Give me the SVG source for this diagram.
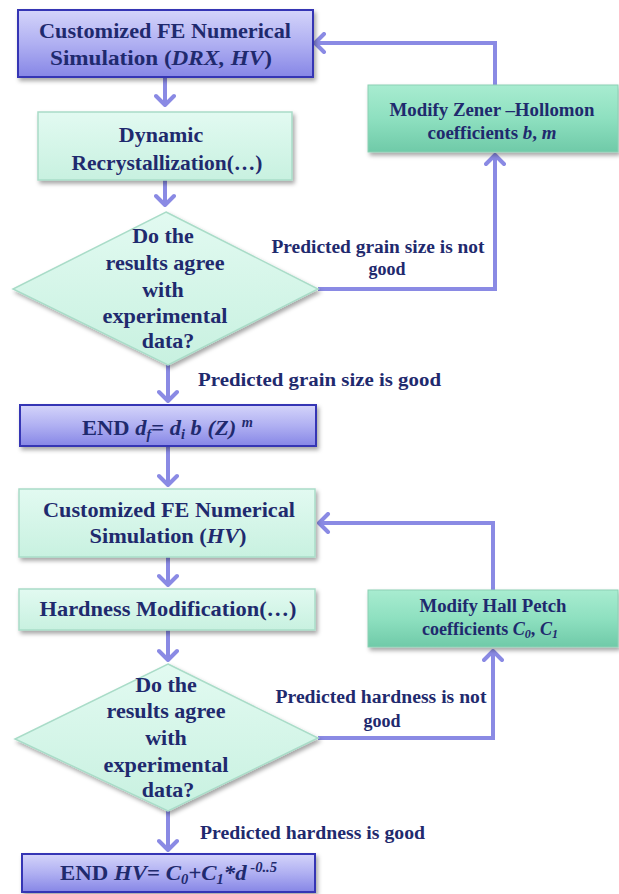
<svg xmlns="http://www.w3.org/2000/svg" width="619" height="894" viewBox="0 0 619 894">
<defs>
<linearGradient id="gBlue" x1="0" y1="0" x2="0" y2="1">
<stop offset="0" stop-color="#d4d4fa"/>
<stop offset="0.5" stop-color="#b0b0f2"/>
<stop offset="1" stop-color="#8686e6"/>
</linearGradient>
<linearGradient id="gPale" x1="0" y1="0" x2="0" y2="1">
<stop offset="0" stop-color="#e2faf1"/>
<stop offset="1" stop-color="#c8f1e0"/>
</linearGradient>
<linearGradient id="gMod" x1="0" y1="0" x2="0" y2="1">
<stop offset="0" stop-color="#a8ecd0"/>
<stop offset="0.5" stop-color="#8ee0c0"/>
<stop offset="1" stop-color="#6fcaa8"/>
</linearGradient>
<filter id="sh" x="-10%" y="-10%" width="125%" height="140%">
<feDropShadow dx="2" dy="3" stdDeviation="2" flood-color="#000" flood-opacity="0.35"/>
</filter>
<marker id="arr" viewBox="-12 -11 14 22" markerWidth="14" markerHeight="22" refX="0" refY="0" orient="auto" markerUnits="userSpaceOnUse">
<path d="M-9,-9 L0,0 L-9,9" fill="none" stroke="#8a8ae4" stroke-width="4" stroke-linecap="round" stroke-linejoin="round"/>
</marker>
</defs>
<style>
.blue{fill:url(#gBlue);stroke:#3434b4;stroke-width:2}
.pale{fill:url(#gPale);stroke:#a9dcc8;stroke-width:1.5}
.mod{fill:url(#gMod);stroke:#8cd0b4;stroke-width:1}
.t{font-family:"Liberation Serif","Times New Roman",serif;font-weight:bold;fill:#1f2a6e;text-anchor:middle}
.b{font-size:22px}
.s{font-size:18px}
.l{font-size:18px;text-anchor:start}
.i{font-style:italic}
.con{fill:none;stroke:#8a8ae4;stroke-width:4;stroke-linejoin:miter}
</style>

<g id="connectors">
<path class="con" d="M165,77 V105" marker-end="url(#arr)"/>
<path class="con" d="M165,180 V205" marker-end="url(#arr)"/>
<path class="con" d="M318,289 H495 V155" marker-end="url(#arr)"/>
<path class="con" d="M495,85 V43 H315" marker-end="url(#arr)"/>
<path class="con" d="M168,365 V401" marker-end="url(#arr)"/>
<path class="con" d="M168,446 V485" marker-end="url(#arr)"/>
<path class="con" d="M168,557 V585" marker-end="url(#arr)"/>
<path class="con" d="M168,630 V660" marker-end="url(#arr)"/>
<path class="con" d="M318,738 H493 V651" marker-end="url(#arr)"/>
<path class="con" d="M493,590 V523 H319" marker-end="url(#arr)"/>
<path class="con" d="M168,811 V850" marker-end="url(#arr)"/>
</g>

<g id="sim1">
<rect class="blue" x="18" y="10" width="295" height="67" filter="url(#sh)"/>
<text class="t b" x="165" y="38" textLength="252" lengthAdjust="spacingAndGlyphs">Customized FE Numerical</text>
<text class="t b" x="161" y="65" textLength="222" lengthAdjust="spacingAndGlyphs">Simulation (<tspan class="i">DRX, HV</tspan>)</text>
</g>

<g id="drx">
<rect class="pale" x="38" y="112" width="254" height="68" filter="url(#sh)"/>
<text class="t b" x="161" y="142">Dynamic</text>
<text class="t b" x="167" y="170" textLength="191" lengthAdjust="spacingAndGlyphs">Recrystallization(…)</text>
</g>

<g id="decision1">
<polygon class="pale" points="166,212 318,289 168,365 13,289" filter="url(#sh)"/>
<text class="t b" x="163" y="243">Do the</text>
<text class="t b" x="165" y="270" textLength="119" lengthAdjust="spacingAndGlyphs">results agree</text>
<text class="t b" x="163" y="297">with</text>
<text class="t b" x="165" y="323" textLength="125" lengthAdjust="spacingAndGlyphs">experimental</text>
<text class="t b" x="168" y="348">data?</text>
</g>

<g id="zener">
<rect class="mod" x="368" y="85" width="250" height="67" filter="url(#sh)"/>
<text class="t s" x="492" y="116" textLength="205" lengthAdjust="spacingAndGlyphs">Modify Zener –Hollomon</text>
<text class="t s" x="492" y="139" textLength="129" lengthAdjust="spacingAndGlyphs">coefficients <tspan class="i">b</tspan>, <tspan class="i">m</tspan></text>
</g>

<g id="label-grain-not">
<text class="t s" x="378" y="253" textLength="213" lengthAdjust="spacingAndGlyphs">Predicted grain size is not</text>
<text class="t s" x="387" y="275">good</text>
</g>

<g id="label-grain-good">
<text class="t l" x="198" y="386" textLength="243" lengthAdjust="spacingAndGlyphs">Predicted grain size  is good</text>
</g>

<g id="end1">
<rect class="blue" x="20" y="405" width="296" height="41" filter="url(#sh)"/>
<text class="t b" x="82" y="435" style="text-anchor:start" textLength="171" lengthAdjust="spacingAndGlyphs">END <tspan class="i">d</tspan><tspan class="i" font-size="14" dy="4">f</tspan><tspan dy="-4">= </tspan><tspan class="i">d</tspan><tspan class="i" font-size="14" dy="4">i</tspan><tspan class="i" dy="-4"> b (Z) </tspan><tspan class="i" font-size="14" dy="-8">m</tspan></text>
</g>

<g id="sim2">
<rect class="pale" x="19" y="489" width="296" height="68" filter="url(#sh)"/>
<text class="t b" x="169" y="517" textLength="252" lengthAdjust="spacingAndGlyphs">Customized FE Numerical</text>
<text class="t b" x="168" y="543" textLength="157" lengthAdjust="spacingAndGlyphs">Simulation (<tspan class="i">HV</tspan>)</text>
</g>

<g id="hardness">
<rect class="pale" x="19" y="589" width="296" height="41" filter="url(#sh)"/>
<text class="t b" x="168" y="616" textLength="257" lengthAdjust="spacingAndGlyphs">Hardness Modification(…)</text>
</g>

<g id="decision2">
<polygon class="pale" points="168,664 318,738 168,811 15,739" filter="url(#sh)"/>
<text class="t b" x="166" y="692">Do the</text>
<text class="t b" x="166" y="718" textLength="119" lengthAdjust="spacingAndGlyphs">results agree</text>
<text class="t b" x="166" y="745">with</text>
<text class="t b" x="166" y="772" textLength="125" lengthAdjust="spacingAndGlyphs">experimental</text>
<text class="t b" x="168" y="797">data?</text>
</g>

<g id="hallpetch">
<rect class="mod" x="368" y="590" width="250" height="57" filter="url(#sh)"/>
<text class="t s" x="493" y="612" textLength="147" lengthAdjust="spacingAndGlyphs">Modify Hall Petch</text>
<text class="t s" x="490" y="635" textLength="136" lengthAdjust="spacingAndGlyphs">coefficients <tspan class="i">C</tspan><tspan class="i" font-size="12" dy="3">0</tspan><tspan dy="-3">, </tspan><tspan class="i">C</tspan><tspan class="i" font-size="12" dy="3">1</tspan></text>
</g>

<g id="label-hard-not">
<text class="t s" x="381" y="703" textLength="211" lengthAdjust="spacingAndGlyphs">Predicted hardness is not</text>
<text class="t s" x="382" y="727">good</text>
</g>

<g id="label-hard-good">
<text class="t l" x="200" y="839" textLength="225" lengthAdjust="spacingAndGlyphs">Predicted hardness  is good</text>
</g>

<g id="end2">
<rect class="blue" x="22" y="854" width="293" height="38" filter="url(#sh)"/>
<text class="t b" x="60" y="880" style="text-anchor:start" textLength="217" lengthAdjust="spacingAndGlyphs">END <tspan class="i">HV</tspan>= <tspan class="i">C</tspan><tspan class="i" font-size="14" dy="4">0</tspan><tspan class="i" dy="-4">+C</tspan><tspan class="i" font-size="14" dy="4">1</tspan><tspan class="i" dy="-4">*d</tspan><tspan class="i" font-size="14" dy="-8"> -0..5</tspan></text>
</g>
</svg>
